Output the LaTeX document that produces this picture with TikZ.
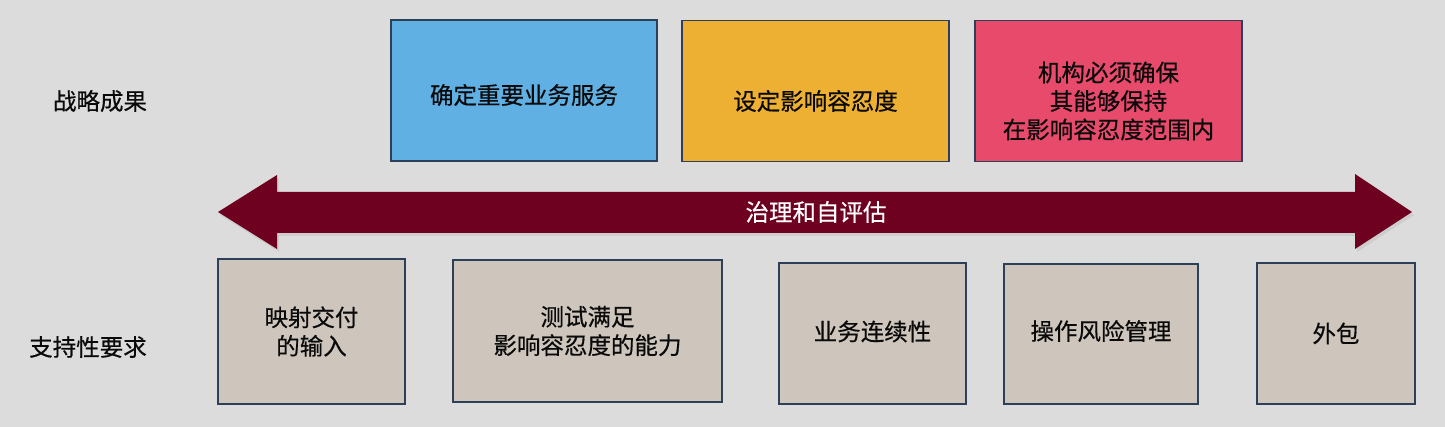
\documentclass[tikz,border=0pt]{standalone}
\usepackage{fontspec}
\newfontfamily\cjk{Noto Sans CJK SC}[FakeBold=0.5]
\definecolor{bg}{RGB}{220,220,220}
\definecolor{bluebox}{RGB}{96,176,228}
\definecolor{orangebox}{RGB}{238,176,50}
\definecolor{pinkbox}{RGB}{232,74,108}
\definecolor{beigebox}{RGB}{206,198,188}
\definecolor{maroon}{RGB}{110,0,32}
\definecolor{edge}{RGB}{44,64,88}
\definecolor{txt}{RGB}{10,10,10}
\begin{document}
\begin{tikzpicture}[x=1pt,y=-1pt,
  every node/.style={font=\cjk\fontsize{23.5}{28.5}\selectfont, text=txt, align=center, inner sep=0pt},
  card/.style={draw=edge, line width=1.8pt, rectangle},
  topcard/.style={card, minimum width=266pt, minimum height=141pt},
  lowcard/.style={card, fill=beigebox}]
\useasboundingbox (0,0) rectangle (1445,427);
\fill[bg] (0,0) rectangle (1445,427);
% row labels
\node (lblA) at (100,101) {战略成果};
\node (lblB) at (88,347) {支持性要求};
% top outcome boxes
\node[topcard, fill=bluebox] (t1) at (524,90.5) {};
\node (t1txt) at ([yshift=-4.5pt]t1.center) {确定重要业务服务};
\node[topcard, fill=orangebox, minimum width=267pt] (t2) at (815.5,91) {};
\node (t2txt) at ([yshift=-10pt]t2.center) {设定影响容忍度};
\node[topcard, fill=pinkbox, minimum width=267pt] (t3) at (1108.5,91) {};
\node (t3txt) at ([yshift=-10pt]t3.center) {机构必须确保\\其能够保持\\在影响容忍度范围内};
% double arrow
\fill[black!25, opacity=0.5, xshift=2pt, yshift=-3pt]
  (218,212) -- (277,175) -- (277,192) -- (1355,192) -- (1355,174) -- (1412,212)
  -- (1355,249) -- (1355,233) -- (277,233) -- (277,249) -- cycle;
\fill[maroon]
  (218,212) -- (277,175) -- (277,192) -- (1355,192) -- (1355,174) -- (1412,212)
  -- (1355,249) -- (1355,233) -- (277,233) -- (277,249) -- cycle;
\node[text=white] (gov) at (816,212) {治理和自评估};
% bottom requirement boxes
\node[lowcard, minimum width=187pt, minimum height=145pt] (b1) at (311.5,331.5) {映射交付\\的输入};
\node[lowcard, minimum width=269pt, minimum height=142pt] (b2) at (587.5,331) {测试满足\\影响容忍度的能力};
\node[lowcard, minimum width=187pt, minimum height=141pt] (b3) at (872.5,333.5) {};
\node (b3txt) at ([yshift=2pt]b3.center) {业务连续性};
\node[lowcard, minimum width=194pt, minimum height=140pt] (b4) at (1101,334) {};
\node (b4txt) at ([yshift=3pt]b4.center) {操作风险管理};
\node[lowcard, minimum width=158pt, minimum height=141pt] (b5) at (1336,333.5) {外包};
\end{tikzpicture}
\end{document}
